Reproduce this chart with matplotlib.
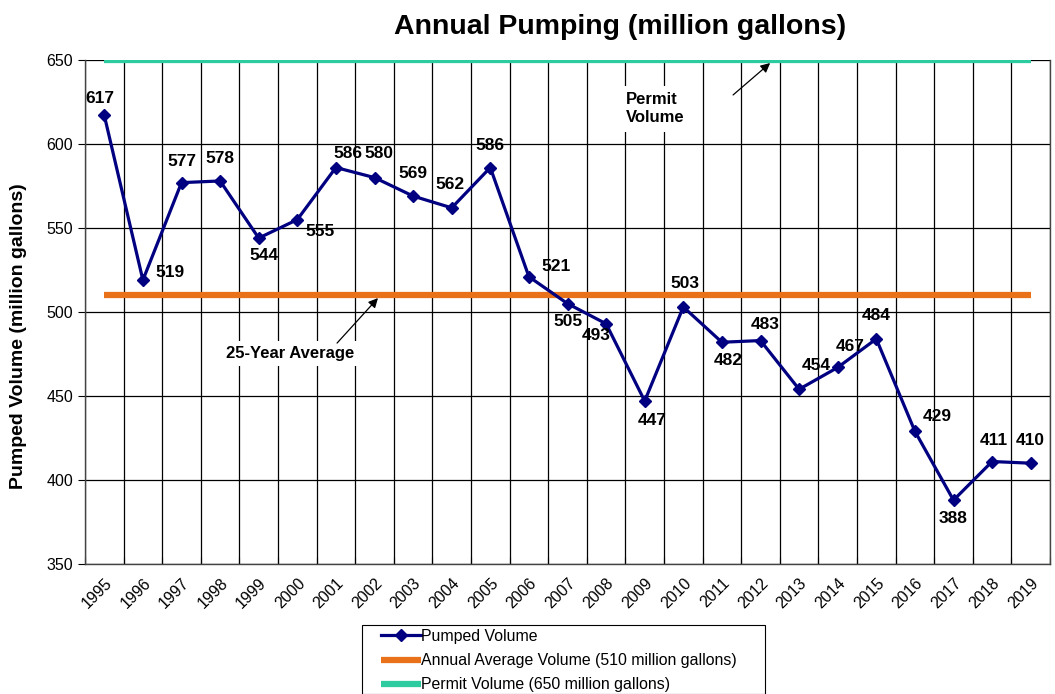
import numpy as np
import matplotlib.pyplot as plt
from matplotlib.patches import Rectangle

plt.rcParams['font.family'] = ['Liberation Sans', 'DejaVu Sans']

years = [str(y) for y in range(1995, 2020)]
pumped = [617, 519, 577, 578, 544, 555, 586, 580, 569, 562, 586, 521, 505,
          493, 447, 503, 482, 483, 454, 467, 484, 429, 388, 411, 410]
average = 510
permit = 650

# label offsets in pixels (dx, dy) for each point label
label_offsets = [(-4, 17), (27, 8), (0, 21), (0, 22), (5, -17), (23, -12),
                 (12, 14), (4, 24), (0, 23), (-2, 23), (0, 22), (27, 10),
                 (0, -18), (-10, -12), (7, -19), (2, 23), (6, -18), (5, 16),
                 (17, 24), (12, 21), (0, 23), (22, 15), (0, -18), (2, 21),
                 (0, 23)]

fig = plt.figure(figsize=(10.55, 6.94), dpi=100)
ax = fig.add_axes([85 / 1055, 1 - 564 / 694, 965 / 1055, 504 / 694])

x = np.arange(len(years))
l1, = ax.plot(x, pumped, color='#000080', lw=2.3, marker='D', ms=6.5,
              zorder=4, label='Pumped Volume')
l2, = ax.plot(x, [average] * len(x), color='#E8711A', lw=4.5,
              solid_capstyle='butt', zorder=3,
              label='Annual Average Volume (510 million gallons)')
l3, = ax.plot(x, [permit] * len(x), color='#2CCBA0', lw=4.5,
              solid_capstyle='butt', zorder=3,
              label='Permit Volume (650 million gallons)')

for i, v in enumerate(pumped):
    dx, dy = label_offsets[i]
    ax.annotate(str(v), (x[i], v), xytext=(dx, dy), textcoords='offset pixels',
                ha='center', va='center', fontsize=12.5, fontweight='bold',
                zorder=5)

ax.set_xlim(-0.5, len(x) - 0.5)
ax.set_ylim(350, 650)
ax.set_yticks(np.arange(350, 651, 50))
ax.set_xticks(np.arange(-0.5, len(x), 1), minor=False)
ax.set_xticklabels([])
ax.set_xticks(x, minor=True)
ax.set_xticklabels(years, minor=True, rotation=45, ha='right',
                   rotation_mode='anchor', fontsize=11.5)
ax.tick_params(axis='x', which='minor', length=0, pad=8)
ax.tick_params(axis='x', which='major', length=5, direction='in')
ax.tick_params(axis='y', labelsize=11.5, length=5, direction='out')
ax.grid(True, which='major', color='black', lw=0.9)
ax.set_axisbelow(True)
for s in ax.spines.values():
    s.set_color('#444444')
    s.set_linewidth(1)
ax.spines['top'].set_visible(False)

ax.set_ylabel('Pumped Volume (million gallons)', fontsize=14,
              fontweight='bold')
ax.yaxis.set_label_coords(-0.06, 0.452)

fig.text(620 / 1055, 1 - 27 / 694, 'Annual Pumping (million gallons)',
         ha='center', va='center', fontsize=20.5, fontweight='bold')

# permit annotation
ax.text(13.5, 621, 'Permit\nVolume', ha='left', va='center', fontsize=12,
        fontweight='bold', linespacing=1.25, zorder=2,
        bbox=dict(boxstyle='square,pad=0.4', fc='white', ec='none'))
ax.annotate('', xy=(17.25, 648.2), xytext=(16.29, 629.2),
            arrowprops=dict(arrowstyle='-|>', color='black', lw=0.9,
                            shrinkA=0, shrinkB=0, mutation_scale=14))
# average annotation
ax.text(4.81, 475, '25-Year Average', ha='center', va='center', fontsize=12,
        fontweight='bold', zorder=2,
        bbox=dict(boxstyle='square,pad=0.3', fc='white', ec='none'))
ax.annotate('', xy=(7.09, 508.3), xytext=(6.03, 481.5),
            arrowprops=dict(arrowstyle='-|>', color='black', lw=0.9,
                            shrinkA=0, shrinkB=0, mutation_scale=14))

leg = fig.legend(handles=[l1, l2, l3], loc='upper left',
                 bbox_to_anchor=(381 / 1055, 1 - 629 / 694), fontsize=11.4,
                 handlelength=2.5, handletextpad=0.05, labelspacing=0.58,
                 borderpad=0.0, borderaxespad=0, frameon=False)
fig.patches.append(Rectangle((362 / 1055, 0.5 / 694), 403 / 1055, 68.5 / 694,
                             transform=fig.transFigure, fill=False,
                             ec='black', lw=0.8))

fig.savefig('out.png', dpi=100)
